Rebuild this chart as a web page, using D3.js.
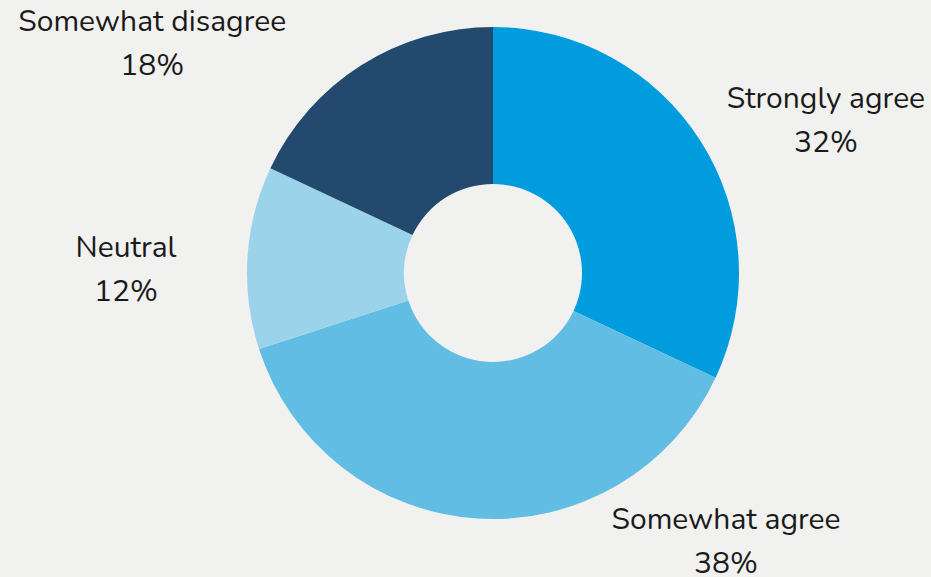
<!DOCTYPE html>
<html>
<head>
<meta charset="utf-8">
<script src="https://cdn.jsdelivr.net/npm/d3@7"></script>
<style>
  body { margin: 0; background: #f1f1ef; }
  svg text { font-family: "Nunito", "Lato", sans-serif; fill: #1a1a1a; }
</style>
</head>
<body>
<svg id="chart" width="931" height="577"></svg>
<script>
const categories = ["Strongly agree", "Somewhat agree", "Neutral", "Somewhat disagree"];
const values = [32, 38, 12, 18];
const colors = ["#009cde", "#61bde4", "#9bd3ea", "#234a6e"];
// label anchor (angle in degrees clockwise from top, distance from centre)
const labelAngle = [63.6, 137.7, 272.5, 305.4];
const labelDist = [371.6, 346.2, 367.3, 418.1];

const svg = d3.select("#chart");
const cx = 493, cy = 273, outerR = 246, innerR = 89;

const pie = d3.pie().sort(null).value(d => d.value);
const data = categories.map((c, i) => ({ name: c, value: values[i], color: colors[i], i: i }));
const arcs = pie(data);

const arc = d3.arc().innerRadius(innerR).outerRadius(outerR);

const g = svg.append("g").attr("transform", `translate(${cx},${cy})`);

g.selectAll("path")
    .data(arcs)
    .enter()
    .append("path")
    .attr("d", arc)
    .attr("fill", d => d.data.color);

const labels = g.selectAll("text.lbl")
    .data(arcs)
    .enter()
    .append("text")
    .attr("class", "lbl")
    .attr("text-anchor", "middle")
    .attr("font-size", 30)
    .attr("transform", d => {
        const a = labelAngle[d.data.i] * Math.PI / 180;
        const r = labelDist[d.data.i];
        return `translate(${Math.sin(a) * r},${-Math.cos(a) * r})`;
    });

labels.append("tspan")
    .attr("x", 0)
    .attr("y", 0)
    .text(d => d.data.name);

labels.append("tspan")
    .attr("x", 0)
    .attr("y", 44)
    .text(d => d.data.value + "%");
</script>
</body>
</html>
